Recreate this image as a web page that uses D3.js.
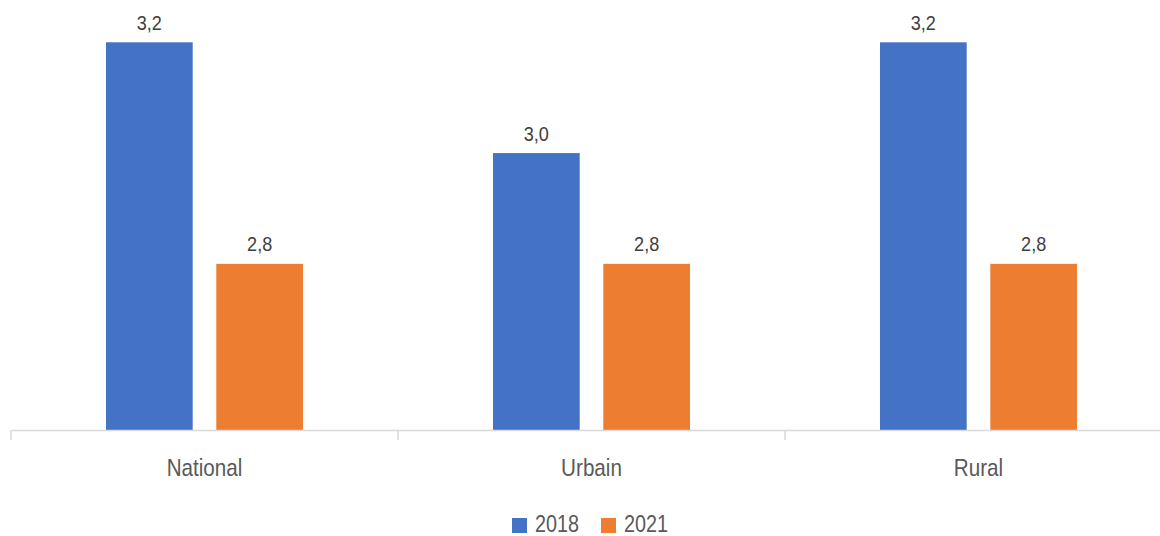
<!DOCTYPE html>
<html>
<head>
<meta charset="utf-8">
<script src="https://cdn.jsdelivr.net/npm/d3@7"></script>
<style>
  html, body { margin: 0; padding: 0; background: #fff; }
  svg { display: block; }
  text { font-family: "Liberation Sans", Arial, sans-serif; }
</style>
</head>
<body>
<svg id="chart" width="1160" height="536"></svg>
<script>
const categories = ["National", "Urbain", "Rural"];
const seriesNames = ["2018", "2021"];
const values2018 = [3.2, 3.0, 3.2];
const values2021 = [2.8, 2.8, 2.8];
const seriesValues = [values2018, values2021];
const colors = ["#4472C4", "#ED7D31"];

const svg = d3.select("#chart");
const NARROW = 0.86;

const x = d3.scaleBand().domain(categories).range([11, 1172]).padding(0);
const xs = d3.scaleBand().domain(seriesNames).range([0, x.bandwidth()])
  .paddingInner(0.214).paddingOuter(0.861);
const y = d3.scaleLinear().domain([2.5, 3.2]).range([430, 42.3]);

const rows = [];
categories.forEach((c, i) => {
  seriesNames.forEach((s, j) => rows.push({cat: c, ser: s, v: seriesValues[j][i], color: colors[j]}));
});

// bars
svg.append("g").selectAll("rect").data(rows).join("rect")
  .attr("x", d => x(d.cat) + xs(d.ser))
  .attr("y", d => y(d.v))
  .attr("width", xs.bandwidth())
  .attr("height", d => y(2.5) - y(d.v))
  .attr("fill", d => d.color);

// value labels (narrow via horizontal scale)
const fmt = v => d3.format(".1f")(v).replace(".", ",");
svg.append("g").selectAll("g").data(rows).join("g")
  .attr("transform", d => `translate(${x(d.cat) + xs(d.ser) + xs.bandwidth() / 2},${y(d.v) - 12.5}) scale(${NARROW},1)`)
  .append("text")
  .attr("text-anchor", "middle")
  .attr("font-size", 21)
  .attr("fill", "#404040")
  .text(d => fmt(d.v));

// axis
const axis = svg.append("g").attr("transform", `translate(0,${y(2.5)})`)
  .call(d3.axisBottom(x).tickSize(0).tickPadding(0).tickSizeOuter(0));
axis.select(".domain").attr("stroke", "#d9d9d9").attr("stroke-width", 1.5);
axis.selectAll(".tick text")
  .attr("y", 0).attr("dy", 0)
  .attr("transform", `translate(0,46) scale(${NARROW},1)`)
  .attr("font-size", 24)
  .attr("fill", "#595959")
  .style("font-family", "\"Liberation Sans\", Arial, sans-serif");
// boundary ticks
const bounds = categories.map(c => x(c)).concat([x.range()[1]]);
axis.append("g").selectAll("line").data(bounds).join("line")
  .attr("x1", d => d).attr("x2", d => d)
  .attr("y1", 0).attr("y2", 10)
  .attr("stroke", "#d9d9d9").attr("stroke-width", 1.5);

// legend
const legend = svg.append("g");
const legendX = [512, 601];
seriesNames.forEach((s, j) => {
  const g = legend.append("g").attr("transform", `translate(${legendX[j]},518)`);
  g.append("rect").attr("width", 15).attr("height", 15).attr("fill", colors[j]);
  g.append("g").attr("transform", `translate(23,14) scale(${NARROW},1)`)
    .append("text").attr("font-size", 23)
    .attr("fill", "#595959").text(s);
});
</script>
</body>
</html>
